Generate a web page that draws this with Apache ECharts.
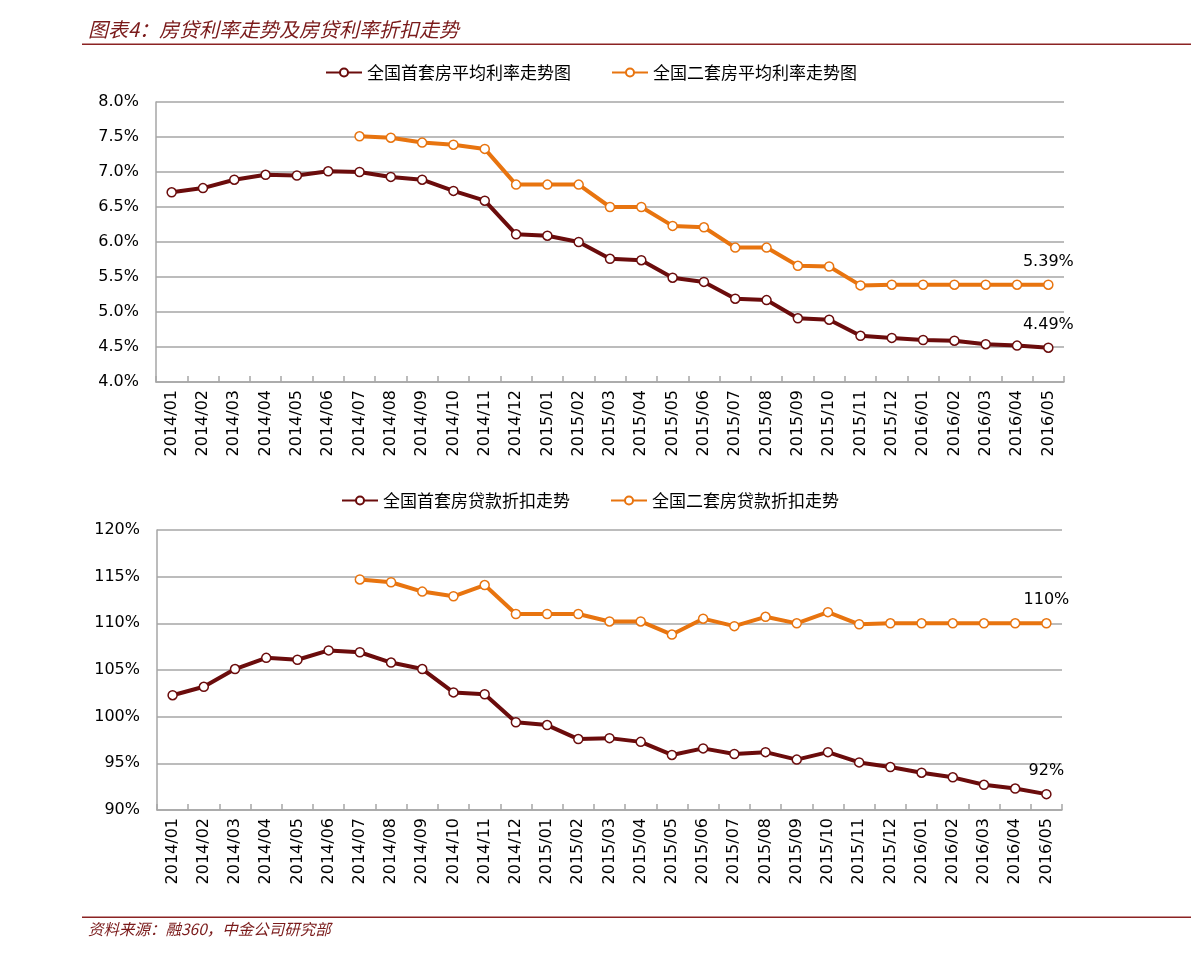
<!DOCTYPE html>
<html><head><meta charset="utf-8">
<script src="https://cdn.jsdelivr.net/npm/echarts@6/dist/echarts.min.js"></script>
<style>html,body{margin:0;padding:0;background:#fff}#c{width:1191px;height:958px}</style>
</head><body><div id="c"></div>
<script>
const categories = ['2014/01','2014/02','2014/03','2014/04','2014/05','2014/06','2014/07','2014/08','2014/09','2014/10','2014/11','2014/12',
'2015/01','2015/02','2015/03','2015/04','2015/05','2015/06','2015/07','2015/08','2015/09','2015/10','2015/11','2015/12',
'2016/01','2016/02','2016/03','2016/04','2016/05'];
const rateFirst = [6.71,6.77,6.89,6.96,6.95,7.01,7.00,6.93,6.89,6.73,6.59,6.11,6.09,6.00,5.76,5.74,5.49,5.43,5.19,5.17,4.91,4.89,4.66,4.63,4.60,4.59,4.54,4.52,4.49];
const rateSecond = [null,null,null,null,null,null,7.51,7.49,7.42,7.39,7.33,6.82,6.82,6.82,6.50,6.50,6.23,6.21,5.92,5.92,5.66,5.65,5.38,5.39,5.39,5.39,5.39,5.39,5.39];
const discFirst = [102.3,103.2,105.1,106.3,106.1,107.1,106.9,105.8,105.1,102.6,102.4,99.4,99.1,97.6,97.7,97.3,95.9,96.6,96.0,96.2,95.4,96.2,95.1,94.6,94.0,93.5,92.7,92.3,91.7];
const discSecond = [null,null,null,null,null,null,114.7,114.4,113.4,112.9,114.1,111.0,111.0,111.0,110.2,110.2,108.8,110.5,109.7,110.7,110.0,111.2,109.9,110.0,110.0,110.0,110.0,110.0,110.0];
const endLabels = ['5.39%','4.49%','110%','92%'];
const names = ['全国首套房平均利率走势图','全国二套房平均利率走势图','全国首套房贷款折扣走势','全国二套房贷款折扣走势'];
const titleText = '图表4：房贷利率走势及房贷利率折扣走势';
const sourceText = '资料来源：融360，中金公司研究部';

const DARK = '#6B0C0C', ORANGE = '#E8740F', GRIDC = '#A6A6A6', TITLEC = '#7A1A1A';
const numFont = 'DejaVu Sans';
const cjk = '"Noto Sans CJK SC"';

function withEndLabel(arr, text) {
  return arr.map((v, i) => i === arr.length - 1 ? {value: v, label: {show: true, formatter: text}} : v);
}
function mkSeries(name, data, color, xi, lbl) {
  return {
    name, type: 'line', xAxisIndex: xi, yAxisIndex: xi,
    data: withEndLabel(data, lbl),
    symbol: 'circle', symbolSize: 9, showSymbol: true,
    lineStyle: {color, width: 4},
    itemStyle: {color: '#fff', borderColor: color, borderWidth: 1.5},
    label: {show: false, position: 'top', distance: 10, color: '#000', fontSize: 16, fontFamily: numFont},
    emphasis: {disabled: true}, animation: false, connectNulls: false
  };
}
function xAx(gi) {
  return {
    type: 'category', gridIndex: gi, data: categories, boundaryGap: true,
    axisLine: {lineStyle: {color: GRIDC, width: 1.5}},
    axisTick: {show: true, inside: true, length: 6, alignWithLabel: false, lineStyle: {color: GRIDC, width: 1.5}},
    axisLabel: {rotate: 90, interval: 0, color: '#000', fontSize: 16, fontFamily: numFont, margin: 8}
  };
}
function yAx(gi, min, max, interval, fmt) {
  return {
    type: 'value', gridIndex: gi, min, max, interval,
    axisLine: {show: true, lineStyle: {color: GRIDC, width: 1.5}},
    axisTick: {show: false},
    splitLine: {lineStyle: {color: GRIDC, width: 1.5}},
    axisLabel: {color: '#000', fontSize: 16, fontFamily: numFont, margin: 17, formatter: fmt}
  };
}
const legendBase = {
  itemWidth: 36, itemHeight: 10, itemGap: 40, orient: 'horizontal',
  textStyle: {fontSize: 17, fontFamily: cjk, color: '#000'}
};
const chart = echarts.init(document.getElementById('c'), null, {renderer: 'canvas'});
chart.setOption({
  backgroundColor: '#fff',
  animation: false,
  grid: [
    {left: 156, right: 127, top: 102, bottom: 576, containLabel: false},
    {left: 157, right: 129, top: 530, bottom: 148, containLabel: false}
  ],
  legend: [
    Object.assign({}, legendBase, {data: [names[0], names[1]], left: 320, top: 59}),
    Object.assign({}, legendBase, {data: [names[2], names[3]], left: 336, top: 487})
  ],
  xAxis: [xAx(0), xAx(1)],
  yAxis: [
    yAx(0, 4, 8, 0.5, v => v.toFixed(1) + '%'),
    yAx(1, 90, 120, 5, v => v.toFixed(0) + '%')
  ],
  series: [
    mkSeries(names[0], rateFirst, DARK, 0, endLabels[1]),
    mkSeries(names[1], rateSecond, ORANGE, 0, endLabels[0]),
    mkSeries(names[2], discFirst, DARK, 1, endLabels[3]),
    mkSeries(names[3], discSecond, ORANGE, 1, endLabels[2])
  ],
  graphic: [
    {type: 'text', left: 88, top: 19, style: {text: titleText, fill: TITLEC, font: 'italic 20px ' + cjk}},
    {type: 'rect', shape: {x: 82, y: 43.5, width: 1109, height: 1.5}, style: {fill: '#8B2323'}},
    {type: 'rect', shape: {x: 82, y: 916.5, width: 1109, height: 1.5}, style: {fill: '#8B2323'}},
    {type: 'text', left: 88, top: 921, style: {text: sourceText, fill: TITLEC, font: 'italic 15.5px ' + cjk}}
  ]
});
</script></body></html>
